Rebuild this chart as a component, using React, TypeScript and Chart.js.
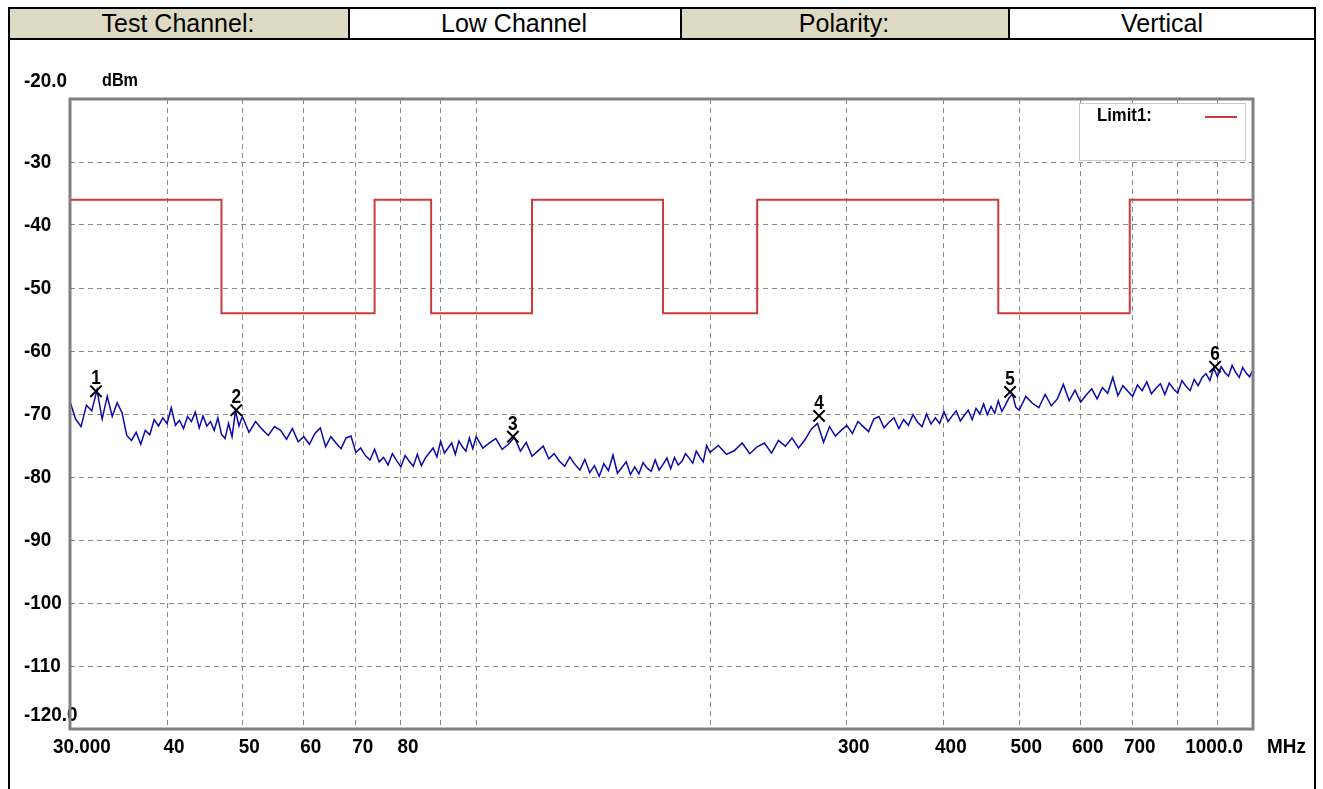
import React, { useEffect, useRef } from 'react';
import { Chart, registerables } from 'chart.js';

Chart.register(...registerables);

const SANS = "'Liberation Sans', Arial, sans-serif";

// ---- header ----
const headerTexts = ['Test Channel:', 'Low Channel', 'Polarity:', 'Vertical'];
const headerFills = ['#DDD9C3', '#FFFFFF', '#DDD9C3', '#FFFFFF'];

// ---- axes ----
const xGridValues = [30, 40, 50, 60, 70, 80, 90, 100, 200, 300, 400, 500, 600, 700, 800, 900, 1000];
const xLabelValues = [30, 40, 50, 60, 70, 80, 300, 400, 500, 600, 700, 1000];
const xLabelTexts = ['30.000', '40', '50', '60', '70', '80', '300', '400', '500', '600', '700', '1000.0'];
const yTickValues = [-20, -30, -40, -50, -60, -70, -80, -90, -100, -110, -120];
const yTickTexts = ['-20.0', '-30', '-40', '-50', '-60', '-70', '-80', '-90', '-100', '-110', '-120.0'];

// ---- limit line (dBm) ----
const limitFreqs = [30, 47, 47, 74, 74, 87.5, 87.5, 118, 118, 174, 174, 230, 230, 470, 470, 694, 694, 1000];
const limitLevels = [-36, -36, -54, -54, -36, -36, -54, -54, -36, -36, -54, -54, -36, -36, -54, -54, -36, -36];

// ---- measured trace ----
const traceFreqs = [
  30, 30.5, 31, 31.5, 32, 32.5, 33, 33.5, 34, 34.5, 35, 35.5, 36, 36.5, 37, 37.5, 38, 38.5, 39, 39.5,
  40, 40.5, 41, 41.5, 42, 42.5, 43, 43.5, 44, 44.5, 45, 45.5, 46, 46.5, 47, 47.5, 48, 48.5, 49, 49.5,
  50, 51, 52, 53, 54, 55, 56, 57, 58, 59, 60, 61, 62, 63, 64, 65, 66, 67, 68, 69,
  70, 71, 72, 73, 74, 75, 76, 77, 78, 79, 80, 81, 82, 83, 84, 85, 86, 87, 88, 89,
  90, 91, 92, 93, 94, 95, 96, 97, 98, 99,
  100, 102, 104, 106, 108, 110, 112, 114, 116, 118, 120, 122, 124, 126, 128, 130, 132, 134, 136, 138,
  140, 142, 144, 146, 148, 150, 152, 154, 156, 158, 160, 162, 164, 166, 168, 170, 172, 174, 176, 178,
  180, 182, 184, 186, 188, 190, 192, 194, 196, 198,
  200, 205, 210, 215, 220, 225, 230, 235, 240, 245, 250, 255, 260, 265, 270, 275, 280, 285, 290, 295,
  300, 305, 310, 315, 320, 325, 330, 335, 340, 345, 350, 355, 360, 365, 370, 375, 380, 385, 390, 395,
  400, 405, 410, 415, 420, 425, 430, 435, 440, 445, 450, 455, 460, 465, 470, 475, 480, 485, 490, 495,
  500, 510, 520, 530, 540, 550, 560, 570, 580, 590, 600, 610, 620, 630, 640, 650, 660, 670, 680, 690,
  700, 710, 720, 730, 740, 750, 760, 770, 780, 790, 800, 810, 820, 830, 840, 850, 860, 870, 880, 890,
  900, 910, 920, 930, 940, 950, 960, 970, 980, 990, 1000,
];
const traceLevels = [
  -68.0, -70.8, -72.0, -68.6, -69.5, -66.2, -70.8, -67.2, -70.4, -68.2, -69.8, -73.4, -74.2, -72.9, -74.8, -72.6, -73.3, -70.9, -71.9, -70.6,
  -71.5, -69.0, -71.8, -71.0, -72.3, -70.4, -71.2, -69.7, -72.2, -70.3, -71.9, -71.2, -72.6, -70.6, -73.2, -73.9, -71.5, -73.6, -69.5, -71.9,
  -70.4, -72.9, -71.2, -72.4, -73.4, -72.0, -72.6, -74.0, -72.3, -74.4, -73.6, -74.8, -73.1, -72.2, -75.2, -73.6, -74.6, -75.5, -73.8, -73.5,
  -76.1, -75.4, -76.6, -77.3, -75.6, -77.6, -76.9, -78.1, -76.3, -77.4, -78.4, -76.6, -77.5, -78.3, -76.4, -78.2, -77.0, -76.2, -75.4, -76.8,
  -74.3, -76.2, -75.4, -74.6, -76.4, -74.3, -75.2, -75.9, -73.8, -75.5,
  -73.6, -75.4, -74.6, -73.9, -75.6, -74.8, -73.7, -75.9, -74.5, -76.7, -75.9, -75.1, -77.1, -76.3, -77.5, -78.3, -76.8, -78.0, -78.9, -77.2,
  -79.3, -78.2, -79.9, -77.9, -79.0, -76.5, -79.4, -78.5, -77.6, -79.6, -78.4, -79.5, -77.7, -78.6, -79.1, -77.3, -78.9, -78.0, -77.0, -78.7,
  -76.9, -78.1, -77.5, -76.3, -77.0, -77.8, -75.9, -76.8, -77.6, -75.0,
  -76.1, -75.0, -76.4, -75.8, -74.6, -76.3, -75.2, -74.6, -76.2, -74.2, -75.1, -73.8, -75.4, -74.1, -72.4, -71.5, -74.5, -72.0, -73.5, -72.6,
  -71.8, -73.1, -71.2, -72.0, -72.8, -70.8, -70.4, -72.2, -71.3, -70.6, -72.3, -70.9, -71.8, -70.1, -71.3, -72.0, -70.0, -71.6, -70.6, -71.5,
  -69.6, -71.2, -70.3, -69.5, -71.1, -70.2, -69.4, -70.9, -69.1, -70.0, -68.4, -70.1, -68.8, -69.9, -67.9, -69.6, -68.6, -67.5, -66.8, -68.9,
  -69.4, -67.2, -68.3, -69.0, -66.9, -68.7, -67.6, -65.3, -67.9, -66.2, -68.1, -67.0, -66.0, -67.6, -65.8, -66.7, -64.2, -67.1, -65.5, -66.4,
  -67.2, -65.4, -66.3, -64.9, -66.8, -65.9, -65.2, -66.9, -65.1, -66.0, -66.7, -64.7, -65.6, -66.3, -64.5, -65.5, -64.2, -63.6, -64.7, -62.7,
  -64.1, -62.5, -63.4, -64.0, -62.3, -63.4, -64.2, -62.6, -63.5, -64.1, -63.0,
];

// ---- markers ----
const markerLabels = ['1', '2', '3', '4', '5', '6'];
const markerFreqs = [32.4, 49.1, 111.5, 276.3, 486.7, 893.7];
const markerLevels = [-66.4, -69.4, -73.6, -70.3, -66.5, -62.5];

function drawScaled(ctx: CanvasRenderingContext2D, text: string, x: number, y: number, align: string, sx: number) {
  const w = ctx.measureText(text).width * sx;
  let left = x;
  if (align === 'center') left = x - w / 2;
  else if (align === 'right') left = x - w;
  ctx.save();
  ctx.translate(left, y);
  ctx.scale(sx, 1);
  ctx.textAlign = 'left';
  ctx.fillText(text, 0, 0);
  ctx.restore();
}

const overlay = {
  id: 'overlay',
  afterDraw(chart: any) {
    const { ctx, chartArea: a, scales } = chart;
    const x = scales.x;
    const y = scales.y;
    const SX = 0.9;
    ctx.save();

    // y labels
    ctx.fillStyle = '#000';
    ctx.font = `bold 21px ${SANS}`;
    ctx.textBaseline = 'middle';
    yTickValues.forEach((v, i) => {
      let py = y.getPixelForValue(v);
      if (i === 0) py -= 18;
      if (i === yTickValues.length - 1) py -= 14;
      drawScaled(ctx, yTickTexts[i], 24, py, 'left', SX);
    });
    ctx.font = `bold 18px ${SANS}`;
    drawScaled(ctx, 'dBm', 102, y.getPixelForValue(-20) - 18, 'left', SX);

    // frame
    ctx.strokeStyle = '#808080';
    ctx.lineWidth = 3;
    ctx.strokeRect(a.left, a.top, a.right - a.left, a.bottom - a.top);

    // x labels
    ctx.font = `bold 21px ${SANS}`;
    const ly = a.bottom + 18;
    xLabelValues.forEach((v, i) => {
      const px = x.getPixelForValue(v);
      if (i === 0) drawScaled(ctx, xLabelTexts[i], px - 17, ly, 'left', SX);
      else if (i === xLabelValues.length - 1) drawScaled(ctx, xLabelTexts[i], px - 10, ly, 'right', SX);
      else drawScaled(ctx, xLabelTexts[i], px + 7, ly, 'center', SX);
    });
    drawScaled(ctx, 'MHz', a.right + 14, ly, 'left', SX);

    // marker numbers
    ctx.font = `bold 21px ${SANS}`;
    ctx.textBaseline = 'alphabetic';
    markerFreqs.forEach((f, i) => {
      const px = x.getPixelForValue(f);
      const py = y.getPixelForValue(markerLevels[i]);
      drawScaled(ctx, markerLabels[i], px, py - 7, 'center', 0.82);
    });

    // legend box
    const bx = a.right - 174;
    const by = a.top + 4;
    ctx.fillStyle = '#fff';
    ctx.fillRect(bx, by, 166, 57);
    ctx.strokeStyle = '#c8c8c8';
    ctx.lineWidth = 1;
    ctx.strokeRect(bx + 0.5, by + 0.5, 166, 57);
    ctx.fillStyle = '#000';
    ctx.font = `bold 19px ${SANS}`;
    ctx.textBaseline = 'middle';
    drawScaled(ctx, 'Limit1:', bx + 18, by + 13, 'left', 0.88);
    ctx.strokeStyle = '#cc3b3b';
    ctx.lineWidth = 2;
    ctx.beginPath();
    ctx.moveTo(bx + 126, by + 14);
    ctx.lineTo(bx + 158, by + 14);
    ctx.stroke();

    ctx.restore();
  },
};

export default function App() {
  const ref = useRef<HTMLCanvasElement | null>(null);

  useEffect(() => {
    const canvas = ref.current;
    if (!canvas) return;
    const gridStyle = { color: '#8a8a8a', lineWidth: 1, drawTicks: false };
    const chart = new Chart(canvas, {
      type: 'line',
      data: {
        datasets: [
          {
            label: 'Limit1',
            data: limitFreqs.map((f, i) => ({ x: f, y: limitLevels[i] })),
            borderColor: '#cc3b3b',
            borderWidth: 2,
            pointRadius: 0,
            fill: false,
            tension: 0,
            order: 3,
          } as any,
          {
            label: 'Trace',
            data: traceFreqs.map((f, i) => ({ x: f, y: traceLevels[i] })),
            borderColor: '#0a0aa8',
            borderWidth: 1.5,
            pointRadius: 0,
            fill: false,
            tension: 0,
            order: 2,
          } as any,
          {
            type: 'scatter',
            label: 'Markers',
            data: markerFreqs.map((f, i) => ({ x: f, y: markerLevels[i] })),
            pointStyle: 'crossRot',
            pointRadius: 8,
            borderColor: '#000',
            borderWidth: 2,
            backgroundColor: 'rgba(0,0,0,0)',
            showLine: false,
            order: 1,
          } as any,
        ],
      },
      options: {
        animation: false,
        responsive: false,
        layout: { padding: { left: 70, top: 99, right: 70, bottom: 60 } },
        plugins: { legend: { display: false }, tooltip: { enabled: false } },
        scales: {
          x: {
            type: 'logarithmic',
            min: 30,
            max: 1000,
            afterBuildTicks: (s: any) => {
              s.ticks = xGridValues.map((v) => ({ value: v }));
            },
            afterFit: (s: any) => {
              s.height = 0;
            },
            ticks: { display: false },
            grid: gridStyle,
            border: { display: false, dash: [5, 4] },
          },
          y: {
            type: 'linear',
            min: -120,
            max: -20,
            afterBuildTicks: (s: any) => {
              s.ticks = yTickValues.map((v) => ({ value: v }));
            },
            afterFit: (s: any) => {
              s.width = 0;
            },
            ticks: { display: false },
            grid: gridStyle,
            border: { display: false, dash: [5, 4] },
          },
        },
      } as any,
      plugins: [overlay],
    });
    return () => chart.destroy();
  }, []);

  const bounds = [8, 348, 680, 1008, 1316];
  const line = (left: number, top: number, width: number, height: number, key: string) => (
    <div key={key} style={{ position: 'absolute', left, top, width, height, background: '#000' }} />
  );

  return (
    <div style={{ position: 'absolute', left: 0, top: 0, width: 1323, height: 789, background: '#fff', overflow: 'hidden' }}>
      <canvas ref={ref} width={1323} height={789} style={{ position: 'absolute', left: 0, top: 0 }} />
      {headerTexts.map((t, i) => (
        <div
          key={t}
          style={{
            position: 'absolute',
            left: bounds[i],
            top: 7,
            width: bounds[i + 1] - bounds[i],
            height: 33,
            background: headerFills[i],
            font: `25px ${SANS}`,
            lineHeight: '33px',
            textAlign: 'center',
            color: '#000',
          }}
        >
          {t}
        </div>
      ))}
      {line(8, 7, 1308, 2, 'top')}
      {line(8, 38, 1308, 2, 'hb')}
      {line(8, 7, 2, 782, 'l')}
      {line(1314, 7, 2, 782, 'r')}
      {line(348, 7, 2, 33, 's1')}
      {line(680, 7, 2, 33, 's2')}
      {line(1008, 7, 2, 33, 's3')}
    </div>
  );
}
